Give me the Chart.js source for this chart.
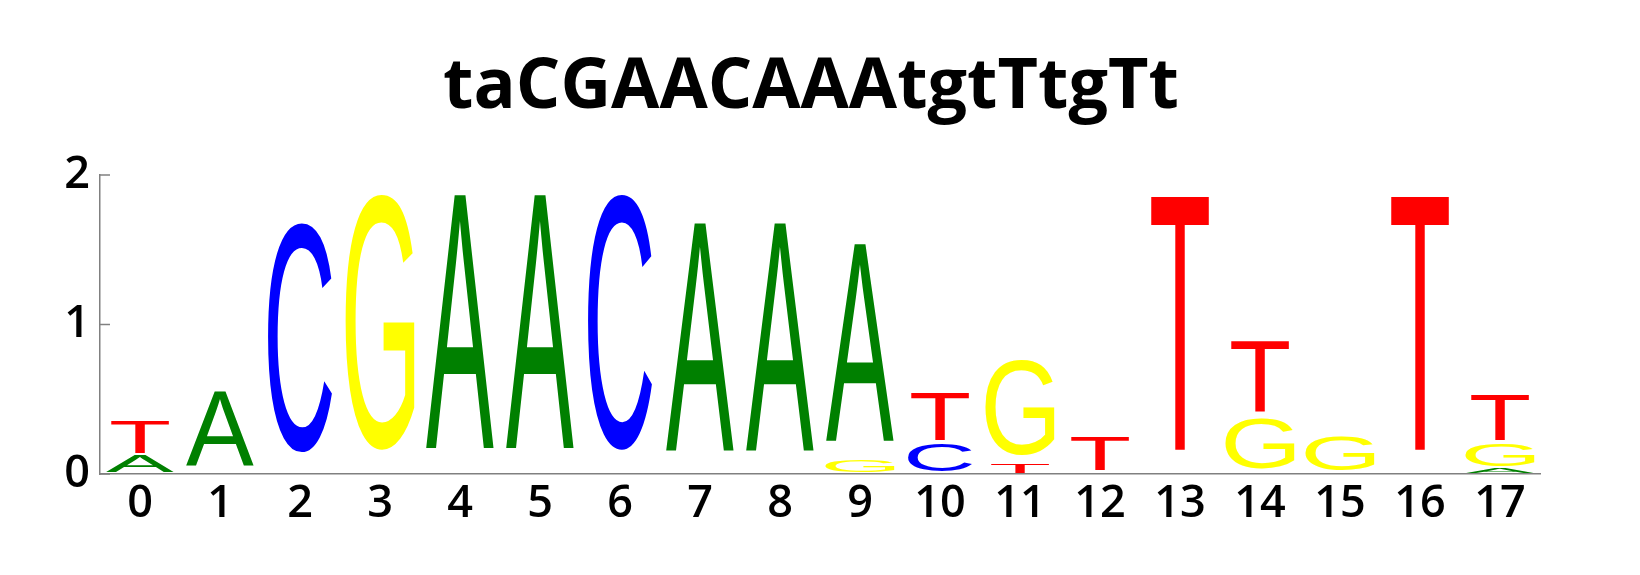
<!DOCTYPE html>
<html>
<head>
<meta charset="utf-8">
<script src="https://cdn.jsdelivr.net/npm/chart.js@4.4.0/dist/chart.umd.min.js"></script>
<style>
  html, body { margin: 0; padding: 0; background: #fff; }
  #logo { display: block; }
</style>
</head>
<body>
<canvas id="logo" width="1640" height="575"></canvas>
<script>
// sequence logo values (bits)
const titulo = "taCGAACAAAtgtTtgTt";
const posiciones = ["0","1","2","3","4","5","6","7","8","9","10","11","12","13","14","15","16","17"];
const alturaA = [0.12, 0.55, 0, 0, 1.87, 1.87, 0, 1.68, 1.68, 1.45, 0, 0, 0, 0, 0, 0, 0, 0.04];
const alturaC = [0, 0, 1.68, 0, 0, 0, 1.87, 0, 0, 0, 0.20, 0, 0, 0, 0, 0, 0, 0];
const alturaG = [0, 0, 0, 1.87, 0, 0, 0, 0, 0, 0.09, 0, 0.69, 0, 0, 0.37, 0.25, 0, 0.16];
const alturaT = [0.23, 0, 0, 0, 0, 0, 0, 0, 0, 0, 0.35, 0.065, 0.25, 1.87, 0.52, 0, 1.87, 0.33];
const yTicks = [0, 1, 2];

const colores = { A: "#008000", C: "#0000ff", G: "#ffff00", T: "#ff0000" };
const anchoLetra = { A: 0.85, C: 0.80, G: 0.86, T: 0.725 };

// build stacked datasets by rank: smallest letter at the bottom
let alturas = { A: alturaA, C: alturaC, G: alturaG, T: alturaT };
let rangos = [];
for (let r = 0; r < 4; r++) {
  rangos.push({ data: [], letras: [] });
}
for (let i = 0; i < posiciones.length; i++) {
  let lista = [];
  for (let l of ["A", "C", "G", "T"]) {
    if (alturas[l][i] > 0) lista.push({ l: l, h: alturas[l][i] });
  }
  lista.sort((a, b) => a.h - b.h);
  for (let r = 0; r < 4; r++) {
    if (r < lista.length) {
      rangos[r].data.push(lista[r].h);
      rangos[r].letras.push(lista[r].l);
    } else {
      rangos[r].data.push(0);
      rangos[r].letras.push(null);
    }
  }
}

const dibujarLetras = {
  id: "letras",
  afterDatasetsDraw(chart) {
    const ctx = chart.ctx;
    chart.data.datasets.forEach((ds, di) => {
      const meta = chart.getDatasetMeta(di);
      meta.data.forEach((bar, j) => {
        const letra = ds.letras[j];
        if (!letra) return;
        const p = bar.getProps(["x", "y", "base", "width"], true);
        const altoCaja = p.base - p.y;
        if (altoCaja <= 0) return;
        const alto = altoCaja * 0.915;
        const ancho = p.width * anchoLetra[letra];
        ctx.save();
        ctx.font = '200px "Liberation Sans"';
        ctx.textBaseline = "alphabetic";
        ctx.textAlign = "left";
        const m = ctx.measureText(letra);
        const inkW = m.actualBoundingBoxLeft + m.actualBoundingBoxRight;
        const inkH = m.actualBoundingBoxAscent + m.actualBoundingBoxDescent;
        ctx.translate(p.x - ancho / 2, p.y);
        ctx.scale(ancho / inkW, alto / inkH);
        ctx.fillStyle = colores[letra];
        ctx.fillText(letra, m.actualBoundingBoxLeft, m.actualBoundingBoxAscent);
        ctx.restore();
      });
    });
  }
};

const ticksAdentro = {
  id: "ticksAdentro",
  afterDraw(chart) {
    const ctx = chart.ctx;
    const y = chart.scales.y;
    const izq = chart.chartArea.left;
    ctx.save();
    ctx.strokeStyle = "#808080";
    ctx.lineWidth = 1.5;
    yTicks.forEach(v => {
      const py = y.getPixelForValue(v);
      ctx.beginPath();
      ctx.moveTo(izq, py);
      ctx.lineTo(izq + 10, py);
      ctx.stroke();
    });
    ctx.restore();
  }
};

new Chart("logo", {
  type: "bar",
  data: {
    labels: posiciones,
    datasets: rangos.map(r => ({
      data: r.data,
      letras: r.letras,
      backgroundColor: "rgba(0,0,0,0)",
      borderWidth: 0,
      categoryPercentage: 1,
      barPercentage: 1
    }))
  },
  options: {
    responsive: false,
    animation: false,
    devicePixelRatio: 1,
    layout: { padding: { left: 0, right: 18, top: 0, bottom: 0 } },
    plugins: {
      legend: { display: false },
      tooltip: { enabled: false },
      title: {
        display: true,
        text: titulo,
        color: "#000",
        font: { family: "Open Sans", size: 70, weight: "bold", lineHeight: 1.2 },
        padding: { top: 46, bottom: 45 }
      }
    },
    scales: {
      x: {
        stacked: true,
        grid: { display: true, drawOnChartArea: false, drawTicks: false },
        border: { display: true, color: "#808080", width: 1.5 },
        ticks: { color: "#000", padding: 3, font: { family: "Open Sans", size: 45, weight: 600 } },
        afterFit(scale) { scale.height = 101; }
      },
      y: {
        stacked: true,
        min: 0,
        max: 2,
        grid: { display: true, drawOnChartArea: false, drawTicks: false },
        border: { display: true, color: "#808080", width: 1.5 },
        ticks: { color: "#000", stepSize: 1, padding: 10, font: { family: "Open Sans", size: 45, weight: 600 } },
        afterFit(scale) { scale.width = 100; }
      },
      margen: {
        position: "right",
        display: true,
        grid: { display: false },
        border: { display: false },
        ticks: { display: false },
        afterFit(scale) { scale.width = 82; }
      }
    }
  },
  plugins: [dibujarLetras, ticksAdentro]
});
</script>
</body>
</html>
